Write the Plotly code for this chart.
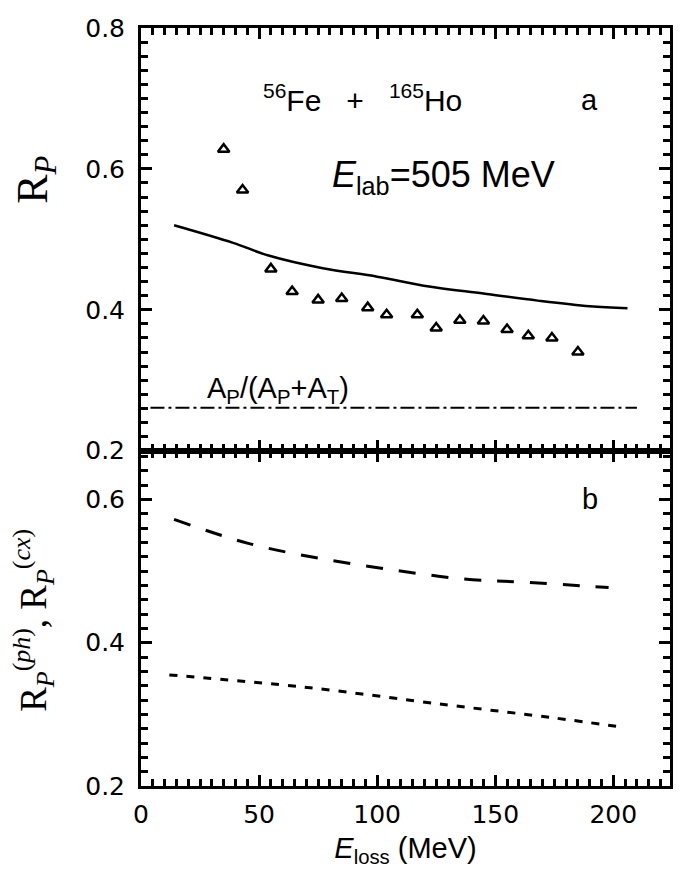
import plotly.graph_objects as go

# panel a: measured ratio (triangles)
exp_e = [35, 43, 55, 64, 75, 85, 96, 104, 117, 125, 135, 145, 155, 164, 174, 185]
exp_r = [0.628, 0.570, 0.458, 0.426, 0.414, 0.416, 0.403, 0.393, 0.393, 0.374,
         0.385, 0.384, 0.372, 0.363, 0.360, 0.340]

# panel a: calculation (solid)
calc_e = [14, 39, 54, 77, 100, 122, 145, 168, 190, 206]
calc_r = [0.520, 0.495, 0.477, 0.459, 0.447, 0.433, 0.423, 0.413, 0.405, 0.402]

# panel a: Ap/(Ap+At) level
ratio_e = [4, 210]
ratio_r = [0.261, 0.261]

# panel b: long dash (upper) and short dash (lower)
ph_e = [14, 45, 75, 106, 136, 164, 198]
ph_r = [0.572, 0.539, 0.518, 0.502, 0.489, 0.484, 0.477]
cx_e = [12, 69, 130, 175, 204]
cx_r = [0.355, 0.338, 0.313, 0.295, 0.282]

FONT = "Liberation Sans"
TICKFONT = "DejaVu Sans"
SERIF = "Liberation Serif"

X_RANGE = [0, 224]
YA_RANGE = [0.2, 0.8]
YB_RANGE = [0.2, 0.668]

fig = go.Figure()

fig.add_trace(go.Scatter(x=calc_e, y=calc_r, mode="lines",
                         line=dict(color="black", width=2.5, shape="spline"),
                         xaxis="x", yaxis="y"))
fig.add_trace(go.Scatter(x=exp_e, y=exp_r, mode="markers",
                         marker=dict(symbol="triangle-up-open", size=10, color="black",
                                     line=dict(width=2.5, color="black")),
                         xaxis="x", yaxis="y"))
fig.add_trace(go.Scatter(x=ratio_e, y=ratio_r, mode="lines",
                         line=dict(color="black", width=2, dash="14px,4px,3px,4px"),
                         xaxis="x", yaxis="y"))
fig.add_trace(go.Scatter(x=ph_e, y=ph_r, mode="lines",
                         line=dict(color="black", width=3, dash="17px,16px", shape="spline"),
                         xaxis="x2", yaxis="y2"))
fig.add_trace(go.Scatter(x=cx_e, y=cx_r, mode="lines",
                         line=dict(color="black", width=3, dash="8px,9px", shape="spline"),
                         xaxis="x2", yaxis="y2"))

# invisible traces so the top/right tick axes get drawn
fig.add_trace(go.Scatter(x=exp_e, y=exp_r, mode="markers", marker=dict(opacity=0),
                         hoverinfo="skip", xaxis="x3", yaxis="y3"))
fig.add_trace(go.Scatter(x=ph_e, y=ph_r, mode="markers", marker=dict(opacity=0),
                         hoverinfo="skip", xaxis="x4", yaxis="y4"))

split = 0.4424
y_minor = [round(0.2 + 0.02 * i, 2) for i in range(31)]

x_style = dict(
    range=X_RANGE, showline=True, linecolor="black", linewidth=3, mirror=True,
    ticks="inside", tickcolor="black", tickwidth=2.5, ticklen=11,
    tickmode="linear", tick0=0, dtick=50,
    showgrid=False, zeroline=False, ticklabeloverflow="allow",
    tickfont=dict(family=TICKFONT, size=25, color="black"),
    minor=dict(ticks="inside", dtick=5, ticklen=7, tickwidth=2.5, tickcolor="black", showgrid=False),
)
y_style = dict(
    showline=True, linecolor="black", linewidth=3, mirror=True,
    ticks="inside", tickcolor="black", tickwidth=2.5, ticklen=11,
    tickmode="linear", tick0=0.2, dtick=0.2, tickformat=".1f",
    showgrid=False, zeroline=False, ticklabeloverflow="allow", ticklabelstandoff=8,
    tickfont=dict(family=TICKFONT, size=25, color="black"),
    minor=dict(ticks="inside", tickmode="array", tickvals=y_minor, ticklen=7, tickwidth=2.5,
               tickcolor="black", showgrid=False),
)

fig.update_layout(
    width=685, height=878,
    margin=dict(l=133, r=23, t=6, b=100),
    plot_bgcolor="white", paper_bgcolor="white",
    template="simple_white",
    showlegend=False,
    # panel a
    xaxis=dict(x_style, domain=[0, 1], anchor="y", showticklabels=False),
    yaxis=dict(y_style, domain=[split, 1], range=YA_RANGE, anchor="x"),
    xaxis3=dict(x_style, overlaying="x", anchor="y", side="top", showticklabels=False),
    yaxis3=dict(y_style, range=YA_RANGE, overlaying="y", anchor="x", side="right", showticklabels=False),
    # panel b
    xaxis2=dict(x_style, domain=[0, 1], anchor="y2", ticklabelstandoff=4,
                title=dict(text="<i>E</i><sub>loss</sub> (MeV)",
                           font=dict(family=FONT, size=29, color="black"), standoff=10)),
    yaxis2=dict(y_style, domain=[0, split], range=YB_RANGE, anchor="x2"),
    xaxis4=dict(x_style, overlaying="x2", anchor="y2", side="top", showticklabels=False),
    yaxis4=dict(y_style, range=YB_RANGE, overlaying="y2", anchor="x2", side="right", showticklabels=False),
)

notes = [
    dict(x=94, y=0.700, xref="x", yref="y",
         text="<sup>56</sup>Fe&nbsp;&nbsp;&nbsp;+&nbsp;&nbsp;&nbsp;<sup>165</sup>Ho", size=30),
    dict(x=190, y=0.698, xref="x", yref="y", text="a", size=29),
    dict(x=128, y=0.588, xref="x", yref="y", text="<i>E</i><sub>lab</sub>=505 MeV", size=36),
    dict(x=190, y=0.600, xref="x2", yref="y2", text="b", size=29),
]
for n in notes:
    fig.add_annotation(x=n["x"], y=n["y"], xref=n["xref"], yref=n["yref"], text=n["text"],
                       showarrow=False, font=dict(family=FONT, size=n["size"], color="black"))

fig.add_annotation(x=58, y=0.258, xref="x", yref="y", yanchor="bottom",
                   text="A<sub>P</sub>/(A<sub>P</sub>+A<sub>T</sub>)", showarrow=False,
                   font=dict(family=FONT, size=29, color="black"))

# y titles
fig.add_annotation(x=-0.200, y=0.80, xref="paper", yref="paper", textangle=-90,
                   xanchor="center", yanchor="middle",
                   text="R<sub><i>P</i></sub>", showarrow=False,
                   font=dict(family=SERIF, size=44, color="black"))
fig.add_annotation(x=-0.204, y=0.218, xref="paper", yref="paper", textangle=-90,
                   xanchor="center", yanchor="middle",
                   text="R<sub><i>P</i></sub><sup>(<i>ph</i>)</sup>, R<sub><i>P</i></sub><sup>(<i>cx</i>)</sup>",
                   showarrow=False, font=dict(family=SERIF, size=37, color="black"))

fig.write_html("out.html")
